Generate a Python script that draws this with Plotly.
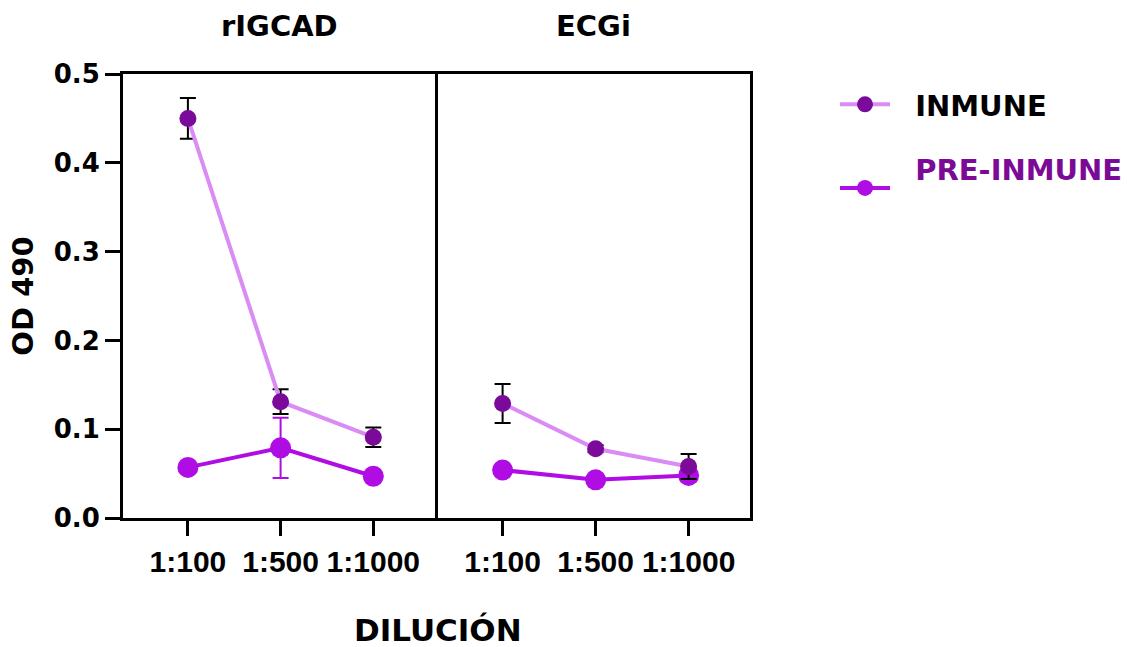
import plotly.graph_objects as go

dilutions = ["1:100", "1:500", "1:1000"]
panels = ["rIGCAD", "ECGi"]

inm_rigcad = [0.450, 0.131, 0.091]
inm_rigcad_err = [0.023, 0.014, 0.011]
pre_rigcad = [0.057, 0.079, 0.047]
pre_rigcad_err = [0.003, 0.034, 0.006]

inm_ecgi = [0.129, 0.078, 0.058]
inm_ecgi_err = [0.022, 0.004, 0.014]
pre_ecgi = [0.054, 0.043, 0.048]
pre_ecgi_err = [0.003, 0.003, 0.007]

y_ticks = [0.0, 0.1, 0.2, 0.3, 0.4, 0.5]

C_INM_MARK = "#7B0A9A"
C_INM_LINE = "#DA8CF4"
C_PRE = "#B00CE4"
FONT = "DejaVu Sans"
ARIAL = "Liberation Sans, Arial, sans-serif"
NB = "\u00a0\u00a0"

fig = go.Figure()

def add_panel(xa, ya, inm, inm_err, pre, pre_err, show):
    fig.add_trace(go.Scatter(
        x=dilutions, y=pre, xaxis=xa, yaxis=ya, mode="lines+markers",
        name=NB + "<span style='color:#7B0A96'>PRE-INMUNE</span><br> ", legendgroup="pre",
        legendrank=2, showlegend=show,
        line=dict(color=C_PRE, width=4),
        marker=dict(color=C_PRE, size=21),
        error_y=dict(type="data", array=pre_err, color=C_PRE, thickness=2, width=8),
    ))
    fig.add_trace(go.Scatter(
        x=dilutions, y=inm, xaxis=xa, yaxis=ya, mode="lines+markers",
        name=NB + "INMUNE", legendgroup="inm", legendrank=1, showlegend=show,
        line=dict(color=C_INM_LINE, width=4),
        marker=dict(color=C_INM_MARK, size=17),
        error_y=dict(type="data", array=inm_err, color="black", thickness=2, width=8),
    ))

add_panel("x", "y", inm_rigcad, inm_rigcad_err, pre_rigcad, pre_rigcad_err, True)
add_panel("x2", "y2", inm_ecgi, inm_ecgi_err, pre_ecgi, pre_ecgi_err, False)

W, H = 1139, 647
def fx(px):
    return px / W
def fy(py):
    return 1 - py / H

xcommon = dict(
    type="category", range=[-0.7, 2.66], showline=True, linecolor="black", linewidth=3,
    mirror=True, ticks="outside", ticklen=15, tickwidth=3, tickcolor="black",
    showgrid=False, zeroline=False, automargin=False,
    tickfont=dict(family=ARIAL, size=30, color="black", weight="bold"),
)
fig.update_layout(
    xaxis=dict(domain=[fx(123), fx(434.5)], anchor="y", **xcommon),
    xaxis2=dict(domain=[fx(437.5), fx(750)], anchor="y2", **xcommon),
    yaxis=dict(domain=[fy(518), fy(74)], range=[0, 0.5], anchor="x", automargin=False,
               tickvals=y_ticks, ticktext=[f"{v:.1f}" for v in y_ticks],
               showline=True, linecolor="black", linewidth=3, mirror=True,
               ticks="outside", ticklen=15, tickwidth=3, tickcolor="black",
               showgrid=False, zeroline=False,
               tickfont=dict(family=FONT, size=26, color="black", weight="bold"),
               title=dict(text="OD 490", font=dict(family=FONT, size=29, color="black", weight="bold"),
                          standoff=12)),
    yaxis2=dict(domain=[fy(518), fy(74)], range=[0, 0.5], anchor="x2", automargin=False,
                showline=True, linecolor="black", linewidth=3, mirror=True,
                showticklabels=False, ticks="", showgrid=False, zeroline=False),
    width=W, height=H,
    margin=dict(l=0, r=0, t=0, b=0, autoexpand=False),
    plot_bgcolor="white", paper_bgcolor="white",
    showlegend=True,
    legend=dict(x=fx(835), y=fy(79), xanchor="left", yanchor="top",
                font=dict(family=FONT, size=29, color="black", weight="bold"),
                tracegroupgap=24, itemwidth=50, bgcolor="rgba(0,0,0,0)"),
    annotations=[
        dict(text=panels[0], x=fx(279), y=fy(26), xref="paper", yref="paper",
             xanchor="center", yanchor="middle",
             showarrow=False, font=dict(family=FONT, size=29, color="black", weight="bold")),
        dict(text=panels[1], x=fx(593), y=fy(26), xref="paper", yref="paper",
             xanchor="center", yanchor="middle",
             showarrow=False, font=dict(family=FONT, size=29, color="black", weight="bold")),
        dict(text="DILUCIÓN", x=fx(438), y=fy(630), xref="paper", yref="paper",
             xanchor="center", yanchor="middle",
             showarrow=False, font=dict(family=FONT, size=31, color="black", weight="bold")),
    ],
)

fig.write_html("out.html", post_script="document.body.style.margin='0';",
               config={"displayModeBar": False})
